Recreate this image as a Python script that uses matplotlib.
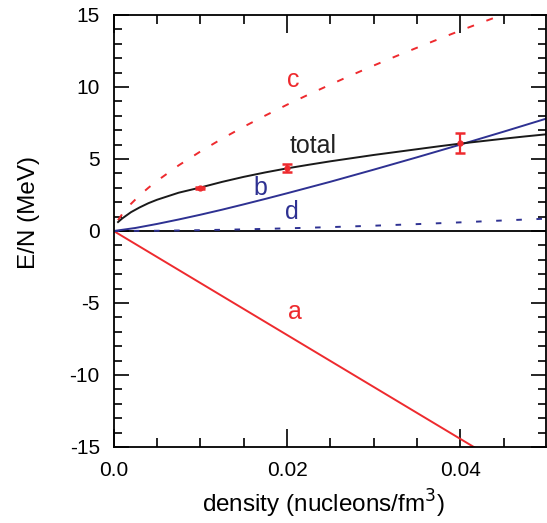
import matplotlib
matplotlib.use("Agg")
import matplotlib.pyplot as plt
from matplotlib.ticker import MultipleLocator, FixedLocator

plt.rcParams['font.family'] = ['Liberation Sans', 'DejaVu Sans']
plt.rcParams['lines.scale_dashes'] = False

RED = '#ee2a2e'
BLUE = '#2e3192'

# curve a (red solid)
a_x = [0.0, 0.05]
a_y = [0.0, -18.05]

# curve b (blue solid)
b_x = [0.0, 0.0025, 0.005, 0.0075, 0.01, 0.0125, 0.015, 0.0175, 0.02, 0.0225, 0.025,
       0.0275, 0.03, 0.0325, 0.035, 0.0375, 0.04, 0.0425, 0.045, 0.0475, 0.05]
b_y = [0.0, 0.21, 0.49, 0.80, 1.13, 1.48, 1.85, 2.23, 2.62, 3.02, 3.42,
       3.84, 4.26, 4.69, 5.12, 5.56, 6.00, 6.45, 6.90, 7.36, 7.82]

# curve c (red dashed)
c_x = [0.0005, 0.001, 0.002, 0.003, 0.004, 0.005, 0.0075, 0.01, 0.0125, 0.015, 0.0175,
       0.02, 0.0225, 0.025, 0.0275, 0.03, 0.0325, 0.035, 0.0375, 0.04, 0.0425, 0.045]
c_y = [0.75, 1.19, 1.89, 2.48, 3.00, 3.48, 4.56, 5.52, 6.41, 7.24, 8.02,
       8.77, 9.48, 10.17, 10.84, 11.49, 12.12, 12.73, 13.33, 13.92, 14.49, 15.05]

# curve d (blue dashed)
d_x = [0.0, 0.005, 0.01, 0.015, 0.02, 0.025, 0.03, 0.035, 0.04, 0.045, 0.05]
d_y = [0.0, 0.018, 0.057, 0.113, 0.185, 0.27, 0.368, 0.478, 0.60, 0.733, 0.86]

# total (black solid)
t_x = [0.0005, 0.001, 0.002, 0.003, 0.004, 0.005, 0.0075, 0.01, 0.0125, 0.015, 0.0175,
       0.02, 0.0225, 0.025, 0.0275, 0.03, 0.0325, 0.035, 0.0375, 0.04, 0.0425, 0.045,
       0.0475, 0.05]
t_y = [0.62, 0.88, 1.31, 1.64, 1.93, 2.17, 2.66, 3.02, 3.41, 3.76, 4.07,
       4.35, 4.60, 4.84, 5.06, 5.28, 5.48, 5.68, 5.88, 6.07, 6.24, 6.41,
       6.57, 6.72]

# data points with error bars
p_x = [0.01, 0.02, 0.04]
p_y = [3.0, 4.35, 6.1]
p_err = [0.08, 0.28, 0.68]

labels = ['a', 'b', 'c', 'd', 'total']
label_x = [0.0209, 0.0169, 0.0207, 0.0205, 0.0230]
label_y = [-5.6, 3.0, 10.5, 1.34, 5.9]
label_colors = [RED, BLUE, RED, BLUE, '#222222']

xtick_vals = [0.0, 0.02, 0.04]
xtick_labels = ['0.0', '0.02', '0.04']
ytick_vals = [-15, -10, -5, 0, 5, 10, 15]
ytick_labels = ['-15', '-10', '-5', '0', '5', '10', '15']

fig = plt.figure(figsize=(5.47, 5.23), dpi=100)
ax = fig.add_axes([113.7 / 547, 1 - 447 / 523, (545.5 - 113.7) / 547, 432 / 523])

ax.axhline(0, color='black', lw=1.3, zorder=1)
ax.plot(a_x, a_y, color=RED, lw=1.4)
ax.plot(b_x, b_y, color=BLUE, lw=1.4)
ax.plot(c_x, c_y, color=RED, lw=1.4, dashes=(5, 9.5))
ax.plot(d_x, d_y, color=BLUE, lw=1.4, dashes=(4, 10.5))
ax.plot(t_x, t_y, color='#1a1a1a', lw=1.4)
ax.errorbar(p_x, p_y, yerr=p_err, fmt='o', color=RED, ms=3.5, elinewidth=1.6,
            capsize=3.5, capthick=1.8, zorder=5)

for lab, lx, ly, lc in zip(labels, label_x, label_y, label_colors):
    ax.text(lx, ly, lab, color=lc, fontsize=18, ha='center', va='center')

ax.set_xlim(0, 0.04982)
ax.set_ylim(-15, 15)
ax.xaxis.set_major_locator(FixedLocator(xtick_vals))
ax.set_xticklabels(xtick_labels)
ax.xaxis.set_minor_locator(MultipleLocator(0.005))
ax.yaxis.set_major_locator(FixedLocator(ytick_vals))
ax.set_yticklabels(ytick_labels)
ax.yaxis.set_minor_locator(MultipleLocator(1))

ax.tick_params(axis='both', which='both', direction='in', top=True, right=True,
               width=1.2, labelsize=15)
ax.tick_params(axis='x', which='major', length=13, pad=10)
ax.tick_params(axis='x', which='minor', length=6.5)
ax.tick_params(axis='y', which='major', length=10.5, pad=10)
ax.tick_params(axis='y', which='minor', length=6)
for s in ax.spines.values():
    s.set_linewidth(1.3)

ax.set_xlabel('density (nucleons/fm$^3$)', fontsize=17.5)
ax.set_ylabel('E/N (MeV)', fontsize=17.5)
ax.xaxis.set_label_coords(0.485, -0.094)
ax.yaxis.set_label_coords(-0.171, 0.542)

fig.savefig('out.png', dpi=100)
